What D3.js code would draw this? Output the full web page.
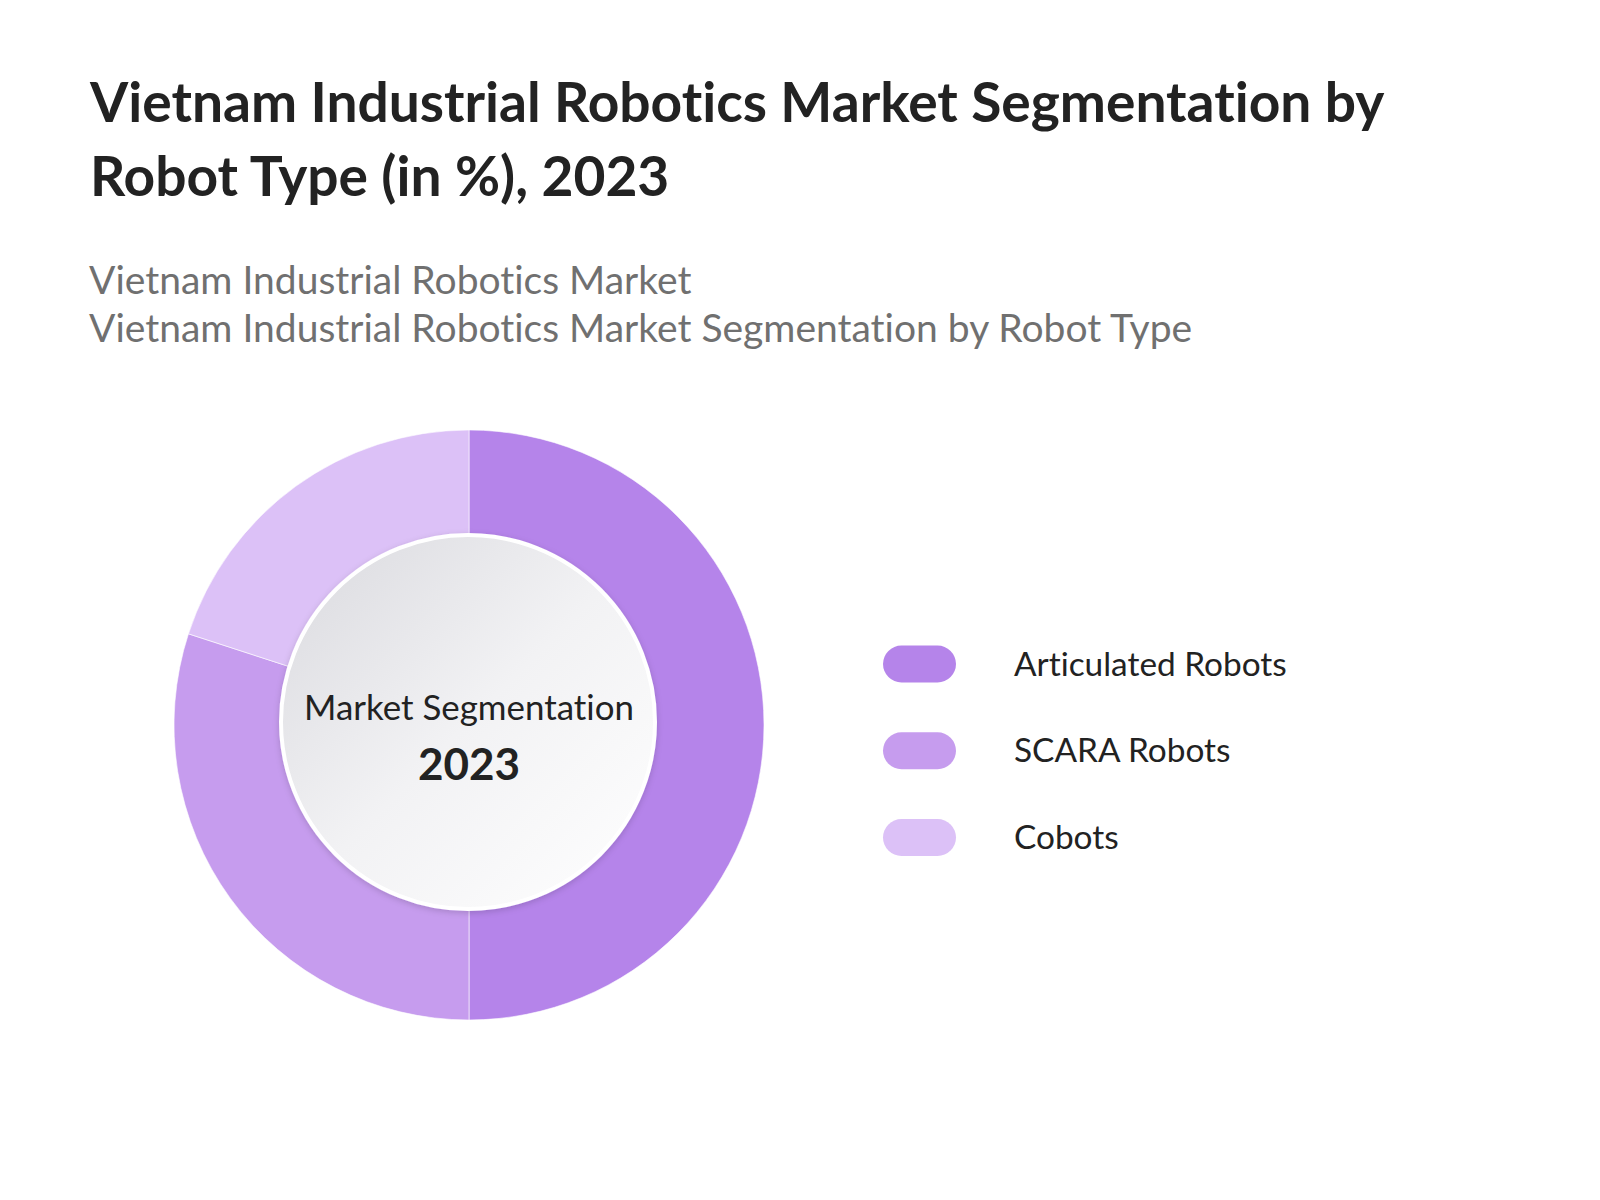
<!DOCTYPE html>
<html>
<head>
<meta charset="utf-8">
<script src="https://cdn.jsdelivr.net/npm/d3@7"></script>
<style>
  html, body { margin: 0; padding: 0; background: #ffffff; }
  svg { display: block; }
  svg text { font-variant-ligatures: none; font-feature-settings: "liga" 0, "clig" 0; }
</style>
</head>
<body>
<svg id="chart" width="1600" height="1200"></svg>
<script>
const titleLines = ["Vietnam Industrial Robotics Market Segmentation by", "Robot Type (in %), 2023"];
const subtitleLines = ["Vietnam Industrial Robotics Market", "Vietnam Industrial Robotics Market Segmentation by Robot Type"];
const categories = ["Articulated Robots", "SCARA Robots", "Cobots"];
const shares = [50, 30, 20];
const colors = ["#b584ea", "#c69cee", "#dcc1f7"];
const centerLabel = "Market Segmentation";
const centerYear = "2023";

const svg = d3.select("#chart");
const font = "Lato, 'Noto Sans', sans-serif";

// Title
svg.append("g").selectAll("text").data(titleLines).join("text")
  .attr("x", 90)
  .attr("y", (d, i) => 122 + i * 74)
  .attr("font-family", font)
  .attr("font-weight", 700)
  .attr("font-size", 55.1)
  .attr("fill", "#222222")
  .text(d => d);

// Subtitle
svg.append("g").selectAll("text").data(subtitleLines).join("text")
  .attr("x", 89)
  .attr("y", (d, i) => 294 + i * 47.5)
  .attr("font-family", font)
  .attr("font-weight", 400)
  .attr("font-size", 39)
  .attr("fill", "#707070")
  .text(d => d);

// Defs
const defs = svg.append("defs");
const grad = defs.append("linearGradient")
  .attr("id", "innerGrad")
  .attr("x1", "0%").attr("y1", "0%")
  .attr("x2", "100%").attr("y2", "100%");
grad.append("stop").attr("offset", "0%").attr("stop-color", "#d9d9de");
grad.append("stop").attr("offset", "50%").attr("stop-color", "#f2f2f4");
grad.append("stop").attr("offset", "100%").attr("stop-color", "#ffffff");

const shadow = defs.append("filter").attr("id", "shadow")
  .attr("x", "-20%").attr("y", "-20%").attr("width", "140%").attr("height", "140%");
shadow.append("feDropShadow")
  .attr("dx", 0).attr("dy", 2).attr("stdDeviation", 3)
  .attr("flood-color", "#000000").attr("flood-opacity", 0.16);

// Donut
const cx = 469, cy = 725;
const outerR = 295, innerR = 180;
const pie = d3.pie().sort(null).value(d => d).startAngle(0).endAngle(2 * Math.PI);
const arc = d3.arc().innerRadius(innerR).outerRadius(outerR);
const color = d3.scaleOrdinal().domain(categories).range(colors);

const g = svg.append("g").attr("transform", `translate(${cx},${cy})`);
g.selectAll("path").data(pie(shares)).join("path")
  .attr("d", arc)
  .attr("fill", (d, i) => color(categories[i]))
  .attr("stroke", "#ffffff")
  .attr("stroke-width", 0.6);

// Inner circle
g.append("circle")
  .attr("cx", -1).attr("cy", -3)
  .attr("r", 187)
  .attr("fill", "url(#innerGrad)")
  .attr("stroke", "#ffffff")
  .attr("stroke-width", 4)
  .attr("filter", "url(#shadow)");

g.append("text")
  .attr("x", 0).attr("y", -5)
  .attr("text-anchor", "middle")
  .attr("font-family", font)
  .attr("font-size", 34.9)
  .attr("fill", "#222222")
  .text(centerLabel);

g.append("text")
  .attr("x", 0).attr("y", 55)
  .attr("text-anchor", "middle")
  .attr("font-family", font)
  .attr("font-weight", 700)
  .attr("font-size", 44)
  .attr("fill", "#222222")
  .text(centerYear);

// Legend
const legendY = d3.scalePoint().domain(categories).range([664, 837.5]);
const legend = svg.append("g").selectAll("g").data(categories).join("g")
  .attr("transform", d => `translate(0,${legendY(d)})`);
legend.append("rect")
  .attr("x", 883).attr("y", -18.5)
  .attr("width", 73).attr("height", 37)
  .attr("rx", 18.5).attr("ry", 18.5)
  .attr("fill", d => color(d));
legend.append("text")
  .attr("x", 1014).attr("y", 11.5)
  .attr("font-family", font)
  .attr("font-size", 33.4)
  .attr("fill", "#222222")
  .text(d => d);
</script>
</body>
</html>
